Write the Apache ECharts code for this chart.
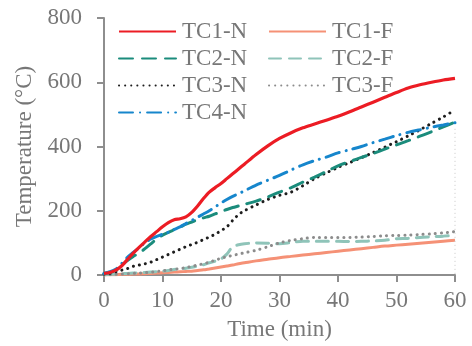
<!DOCTYPE html>
<html><head><meta charset="utf-8">
<script src="https://cdn.jsdelivr.net/npm/echarts@6/dist/echarts.min.js"></script>
<style>html,body{margin:0;padding:0;background:#fff}#c{width:472px;height:346px}</style>
</head><body><div id="c"></div>
<script>
const times = [0,1,2,3,4,5,6,7,8,9,10,11,12,13,14,15,16,17,18,19,20,21,22,23,24,26,28,30,32,34,36,38,40,42,44,46,48,50,52,54,56,58,60];
const tc1n = [5,8,15,28,48,68,86,103,120,135,150,163,172,175,181,195,215,238,258,272,285,300,315,330,345,375,402,425,443,458,470,482,494,508,523,538,553,568,582,592,600,607,612];
const tc2n = [5,8,15,30,45,58,68,82,97,112,124,133,141,149,158,165,172,178,183,190,197,204,210,215,220,230,243,258,272,289,305,322,340,353,366,378,392,405,418,432,446,461,476];
const tc3n = [3,5,10,15,20,27,31,35,40,48,56,64,72,80,88,95,102,110,118,127,138,150,170,188,200,218,235,248,258,278,300,318,335,350,365,381,398,415,433,452,472,492,514];
const tc4n = [5,10,18,35,55,70,85,100,112,120,127,133,142,150,160,170,180,190,200,212,224,235,245,253,262,280,295,310,327,343,356,367,380,390,400,412,423,434,444,452,460,467,474];
const tc1f = [0,1,1,2,2,3,3,4,5,6,7,8,9,10,11,12,14,16,19,22,25,28,31,35,38,44,49,54,58,62,66,70,74,78,82,86,90,93,96,99,102,105,108];
const tc2f = [0,2,3,4,5,6,7,8,9,10,12,14,17,19,21,24,28,32,38,43,50,65,88,94,97,100,99,97,101,105,105,105,105,104,105,106,108,113,114,117,119,121,124];
const tc3f = [0,1,2,3,4,5,6,7,9,11,13,16,18,20,23,27,31,35,40,46,52,57,61,65,69,77,88,100,108,113,117,117,117,117,118,120,122,123,124,126,128,131,135];
const edgeT = [60,60];
const edgeV = [455,0];
const xTicks = [0,10,20,30,40,50,60];
const yTicks = [0,200,400,600,800];

const pair = (v) => v.map((y,i)=>[times[i],y]);
const font = '"Liberation Serif","Times New Roman",serif';
const txt = '#777777';
const ax = '#8e8e8e';
function s(name, data, color, type, width){
  return {name, type:'line', data:pair(data), symbol:'none', smooth:0.3,
    lineStyle:{color, width:width||3, type, cap: Array.isArray(type)?'round':'butt'},
    itemStyle:{color}};
}
const legBase = {orient:'vertical',top:20,padding:0,itemWidth:57,itemHeight:14,itemGap:4,
  itemStyle:{opacity:0,borderWidth:0},
  textStyle:{fontFamily:font,fontSize:23,color:txt,lineHeight:20,padding:[0,0,0,1]}};
const chart = echarts.init(document.getElementById('c'));
chart.setOption({
  animation:false,
  grid:{left:104,right:17,top:18,bottom:69,containLabel:false},
  xAxis:{type:'value',min:0,max:60,interval:10,
    name:'Time (min)',nameLocation:'middle',nameGap:43,
    nameTextStyle:{fontFamily:font,fontSize:23,color:txt},
    axisLine:{show:true,lineStyle:{color:ax,width:2}},
    axisTick:{show:true,length:7,lineStyle:{color:ax,width:2}},
    axisLabel:{fontFamily:font,fontSize:23,color:txt,margin:14,formatter:v=>xTicks.includes(v)?String(v):''},
    splitLine:{show:false}},
  yAxis:{type:'value',min:0,max:800,interval:200,
    name:'Temperature (°C)',nameLocation:'middle',nameGap:54,
    nameTextStyle:{fontFamily:font,fontSize:23,color:txt},
    axisLine:{show:true,lineStyle:{color:ax,width:2}},
    axisTick:{show:true,length:7,lineStyle:{color:ax,width:2}},
    axisLabel:{fontFamily:font,fontSize:23,color:txt,margin:22,formatter:v=>yTicks.includes(v)?String(v):''},
    splitLine:{show:false}},
  legend:[
    Object.assign({data:['TC1-N','TC2-N','TC3-N','TC4-N'],left:118}, legBase),
    Object.assign({data:['TC1-F','TC2-F','TC3-F'],left:268}, legBase)
  ],
  series:[
    s('TC1-F',tc1f,'#f59176','solid',3),
    s('TC2-F',tc2f,'#8fc4b9',[12,8],3),
    s('TC3-F',tc3f,'#8c8c8c',[0.1,6],3),
    s('TC3-N',tc3n,'#1e1e1e',[0.1,6],3),
    s('TC2-N',tc2n,'#1b8c7c',[14,9],3),
    s('TC4-N',tc4n,'#1686cc',[14,7,0.1,7],3),
    s('TC1-N',tc1n,'#ec1c24','solid',3.2),
    {name:'edge',type:'line',data:edgeT.map((t,i)=>[t,edgeV[i]]),symbol:'none',silent:true,
      lineStyle:{color:'#c8c8c8',width:1,type:[1,3]}}
  ]
});
</script></body></html>
